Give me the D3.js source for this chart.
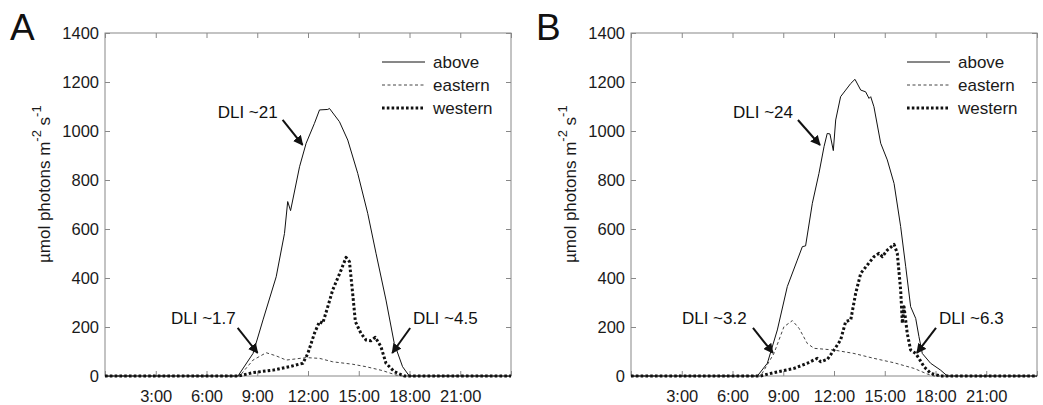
<!DOCTYPE html>
<html>
<head>
<meta charset="utf-8">
<script src="https://cdn.jsdelivr.net/npm/d3@7"></script>
<style>
  body { margin: 0; background: #fff; }
  svg { display: block; font-family: "Liberation Sans", Arial, sans-serif; }
  .axis text { fill: #1a1a1a; font-size: 16.5px; }
  .axis line { stroke: #888; }
</style>
</head>
<body>
<div class="chart-container"></div>
<script>
(function() {
  ////////////////////////////////////////////////////////////
  //// Data //////////////////////////////////////////////////
  ////////////////////////////////////////////////////////////
  const hourTicks = [0, 3, 6, 9, 12, 15, 18, 21, 24];
  const hourLabels = ["", "3:00", "6:00", "9:00", "12:00", "15:00", "18:00", "21:00", ""];
  const valueTicks = [0, 200, 400, 600, 800, 1000, 1200, 1400];
  const seriesNames = ["above", "eastern", "western"];
  const panelLetters = ["A", "B"];

  // [hour, µmol photons m-2 s-1]
  const aboveA = [
    [0, 0], [7.86, 0], [8.75, 92], [9.34, 229], [10.12, 405], [10.61, 582],
    [10.8, 712], [10.97, 675], [11.5, 854], [11.89, 950], [12.38, 1031],
    [12.68, 1086], [13.17, 1088], [13.27, 1092], [13.86, 1038], [14.35, 963],
    [14.94, 827], [15.53, 664], [16.02, 501], [16.61, 310], [17.1, 133],
    [17.59, 38], [17.99, 0], [24, 0]
  ];
  const easternA = [
    [0, 0], [7.96, 0], [8.75, 65], [9.53, 95], [10.12, 82], [10.71, 65],
    [11.89, 75], [12.68, 72], [13.46, 58], [14.64, 48], [15.43, 38],
    [16.41, 22], [17.2, 4], [17.6, 0], [24, 0]
  ];
  const westernA = [
    [0, 0], [7.9, 0], [8.75, 14], [9.93, 24], [10.91, 38], [11.7, 52],
    [11.99, 92], [12.38, 174], [12.68, 222], [12.87, 215], [13.17, 283],
    [13.46, 351], [13.96, 433], [14.25, 484], [14.45, 467], [14.64, 337],
    [14.8, 222], [15.13, 174], [15.43, 147], [15.72, 144], [15.98, 158],
    [16.31, 120], [16.61, 52], [17.1, 18], [17.69, 0], [24, 0]
  ];

  const aboveB = [
    [0, 0], [7.47, 0], [8.06, 52], [8.65, 188], [9.24, 365], [9.83, 473],
    [10.13, 528], [10.32, 531], [10.72, 705], [11.11, 827], [11.41, 936],
    [11.6, 990], [11.76, 988], [11.96, 920], [12.1, 1045], [12.39, 1140],
    [12.69, 1167], [12.99, 1194], [13.24, 1211], [13.58, 1167], [13.87, 1160],
    [14.07, 1133], [14.17, 1140], [14.36, 1099], [14.76, 950], [15.15, 882],
    [15.55, 786], [15.94, 610], [16.24, 446], [16.53, 283], [16.83, 235],
    [17.02, 161], [17.22, 92], [17.71, 52], [18.3, 24], [18.7, 0], [24, 0]
  ];
  const easternB = [
    [0, 0], [7.66, 0], [8.45, 92], [9.04, 201], [9.54, 226], [9.93, 195],
    [10.42, 133], [10.82, 113], [12.0, 106], [13.18, 92], [14.36, 72],
    [15.55, 54], [16.73, 31], [17.52, 8], [17.91, 0], [24, 0]
  ];
  const westernB = [
    [0, 0], [7.66, 0], [8.45, 14], [9.64, 31], [10.42, 52], [11.01, 72],
    [11.21, 58], [11.61, 68], [12.0, 106], [12.39, 147], [12.69, 222],
    [12.99, 229], [13.28, 337], [13.58, 419], [13.97, 453], [14.36, 487],
    [14.66, 501], [14.86, 487], [15.15, 514], [15.55, 537], [15.74, 501],
    [15.94, 351], [16.04, 215], [16.14, 283], [16.33, 174], [16.53, 106],
    [16.83, 92], [17.02, 72], [17.32, 38], [17.71, 11], [18.3, 0], [24, 0]
  ];

  // annotations: label, text position [hour, value], arrow tail, arrow head
  const notesA = [
    { label: "DLI ~21", text: [6.66, 1078], from: [10.5, 1045], to: [11.68, 943] },
    { label: "DLI ~1.7", text: [3.9, 237], from: [7.84, 196], to: [9.02, 94] },
    { label: "DLI ~4.5", text: [18.2, 237], from: [18.04, 196], to: [16.98, 94] }
  ];
  const notesB = [
    { label: "DLI ~24", text: [6.03, 1078], from: [9.87, 1045], to: [11.17, 943] },
    { label: "DLI ~3.2", text: [3.01, 237], from: [7.21, 196], to: [8.39, 94] },
    { label: "DLI ~6.3", text: [18.2, 237], from: [18.03, 196], to: [16.9, 94] }
  ];

  ////////////////////////////////////////////////////////////
  //// Setup /////////////////////////////////////////////////
  ////////////////////////////////////////////////////////////
  const chartWidth = 1043;
  const chartHeight = 405;
  const plotTop = 33;
  const plotBottom = 376;
  const panelLefts = [105, 631];
  const plotWidth = 406;
  const tickLen = 5;

  const styles = {
    above: { stroke: "#111", width: 1, dash: null },
    eastern: { stroke: "#444", width: 1, dash: "3,2.5" },
    western: { stroke: "#111", width: 3, dash: "2.6,2.2" }
  };

  const svg = d3
    .select(".chart-container")
    .append("svg")
    .attr("width", chartWidth)
    .attr("height", chartHeight)
    .attr("viewBox", [0, 0, chartWidth, chartHeight]);

  svg
    .append("defs")
    .append("marker")
    .attr("id", "arrow-head")
    .attr("viewBox", [0, 0, 10, 10])
    .attr("refX", 9)
    .attr("refY", 5)
    .attr("markerWidth", 5)
    .attr("markerHeight", 5)
    .attr("markerUnits", "strokeWidth")
    .attr("orient", "auto")
    .append("path")
    .attr("d", "M 0 0 L 10 5 L 0 10 z")
    .attr("fill", "#111");

  const panels = [
    { series: [aboveA, easternA, westernA], notes: notesA, legendX: 382 - 105 },
    { series: [aboveB, easternB, westernB], notes: notesB, legendX: 907 - 631 }
  ];

  panels.forEach((p, i) => drawPanel(p, panelLefts[i], panelLetters[i]));

  function drawPanel(panel, left, letter) {
    const x = d3.scaleLinear().domain([0, 24]).range([0, plotWidth]);
    const y = d3.scaleLinear().domain([0, 1400]).range([plotBottom - plotTop, 0]);
    const h = plotBottom - plotTop;

    const g = svg.append("g").attr("transform", `translate(${left},${plotTop})`);

    // box
    g.append("rect")
      .attr("width", plotWidth)
      .attr("height", h)
      .attr("fill", "none")
      .attr("stroke", "#888");

    g.append("g")
      .attr("class", "axis")
      .attr("transform", `translate(0,${h})`)
      .call(
        d3.axisBottom(x)
          .tickValues(hourTicks)
          .tickSize(-tickLen)
          .tickPadding(14)
          .tickFormat((d, i) => hourLabels[i])
      )
      .call(g => g.select(".domain").remove());
    g.append("g")
      .attr("class", "axis")
      .call(d3.axisTop(x).tickValues(hourTicks).tickSize(-tickLen).tickFormat(""))
      .call(g => g.select(".domain").remove());
    g.append("g")
      .attr("class", "axis")
      .call(
        d3.axisLeft(y)
          .tickValues(valueTicks)
          .tickSize(-tickLen)
          .tickPadding(6)
          .tickFormat(d3.format("d"))
      )
      .call(g => g.select(".domain").remove());
    g.append("g")
      .attr("class", "axis")
      .attr("transform", `translate(${plotWidth},0)`)
      .call(d3.axisRight(y).tickValues(valueTicks).tickSize(-tickLen).tickFormat(""))
      .call(g => g.select(".domain").remove());

    // y label
    const yl = svg
      .append("text")
      .attr("transform", `translate(${left - 55},263) rotate(-90)`)
      .attr("font-size", 17)
      .attr("fill", "#1a1a1a");
    yl.append("tspan").text("\u00b5mol photons m");
    yl.append("tspan").attr("dy", -9).attr("font-size", 13).text("-2");
    yl.append("tspan").attr("dy", 9).text(" s");
    yl.append("tspan").attr("dy", -9).attr("font-size", 13).text("-1");

    // panel letter
    svg
      .append("text")
      .attr("x", left - 95)
      .attr("y", 40)
      .attr("font-size", 37)
      .attr("fill", "#111")
      .text(letter);

    // lines
    const line = d3.line().x(d => x(d[0])).y(d => y(d[1]));
    const order = [1, 0, 2];
    order.forEach(k => {
      const s = styles[seriesNames[k]];
      g.append("path")
        .datum(panel.series[k])
        .attr("d", line)
        .attr("fill", "none")
        .attr("stroke", s.stroke)
        .attr("stroke-width", s.width)
        .attr("stroke-dasharray", s.dash)
        .attr("stroke-linejoin", "round");
    });

    // legend
    const lg = g.append("g").attr("transform", `translate(${panel.legendX},0)`);
    seriesNames.forEach((name, k) => {
      const s = styles[name];
      const ly = 29 + k * 23;
      lg.append("line")
        .attr("x1", 0)
        .attr("x2", 43)
        .attr("y1", ly)
        .attr("y2", ly)
        .attr("stroke", s.stroke)
        .attr("stroke-width", s.width)
        .attr("stroke-dasharray", s.dash);
      lg.append("text")
        .attr("x", 51)
        .attr("y", ly)
        .attr("dy", "0.35em")
        .attr("font-size", 17)
        .attr("fill", "#1a1a1a")
        .text(name);
    });

    // annotations
    panel.notes.forEach(n => {
      g.append("text")
        .attr("x", x(n.text[0]))
        .attr("y", y(n.text[1]))
        .attr("dy", "0.35em")
        .attr("font-size", 17)
        .attr("fill", "#111")
        .text(n.label);
      g.append("line")
        .attr("x1", x(n.from[0]))
        .attr("y1", y(n.from[1]))
        .attr("x2", x(n.to[0]))
        .attr("y2", y(n.to[1]))
        .attr("stroke", "#111")
        .attr("stroke-width", 2)
        .attr("marker-end", "url(#arrow-head)");
    });
  }
})();
</script>
</body>
</html>
